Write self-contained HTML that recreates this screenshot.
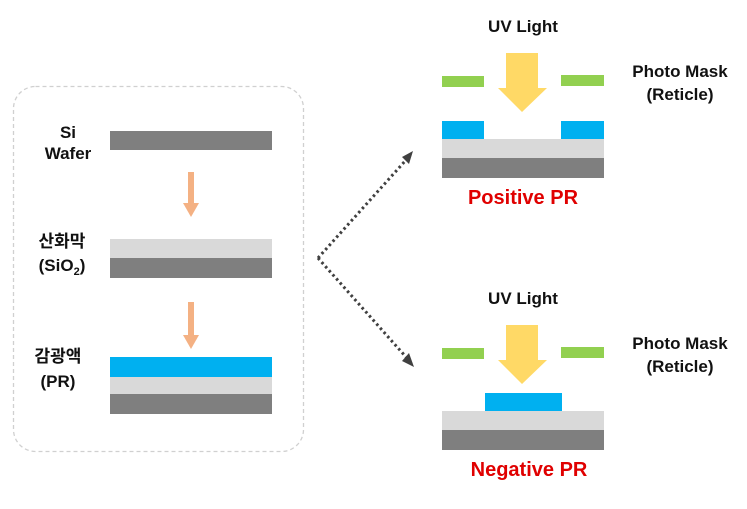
<!DOCTYPE html>
<html><head><meta charset="utf-8"><style>
html,body{margin:0;padding:0;background:#fff;width:747px;height:509px;overflow:hidden}
svg text{font-family:"Liberation Sans","Noto Sans CJK KR",sans-serif;font-weight:bold}
</style></head><body>
<svg width="747" height="509" viewBox="0 0 747 509" xmlns="http://www.w3.org/2000/svg">
<rect x="13.5" y="86.5" width="290" height="365" rx="22" fill="none" stroke="#d0d0d0" stroke-width="1.3" stroke-dasharray="4,3"/>
<!-- Si wafer -->
<rect x="110" y="131" width="162" height="19" fill="#7f7f7f"/>
<text x="68" y="138" font-size="17" text-anchor="middle" fill="#111">Si</text>
<text x="68" y="159" font-size="17" text-anchor="middle" fill="#111">Wafer</text>
<!-- arrow 1 -->
<rect x="188" y="172" width="6" height="31" fill="#f4b183"/>
<polygon points="183,203 199,203 191,217" fill="#f4b183"/>
<!-- SiO2 -->
<rect x="110" y="239" width="162" height="19" fill="#d9d9d9"/>
<rect x="110" y="258" width="162" height="20" fill="#7f7f7f"/>
<text x="62" y="247" font-size="17" text-anchor="middle" fill="#111">산화막</text>
<text x="62" y="271" font-size="17" text-anchor="middle" fill="#111">(SiO<tspan font-size="11" dy="4">2</tspan><tspan dy="-4">)</tspan></text>
<!-- arrow 2 -->
<rect x="188" y="302" width="6" height="33" fill="#f4b183"/>
<polygon points="183,335 199,335 191,349" fill="#f4b183"/>
<!-- PR -->
<rect x="110" y="357" width="162" height="20" fill="#00b0f0"/>
<rect x="110" y="377" width="162" height="17" fill="#d9d9d9"/>
<rect x="110" y="394" width="162" height="20" fill="#7f7f7f"/>
<text x="58" y="362" font-size="17" text-anchor="middle" fill="#111">감광액</text>
<text x="58" y="387" font-size="17" text-anchor="middle" fill="#111">(PR)</text>
<!-- dotted connectors -->
<path d="M318,258 L406,160" stroke="#404040" stroke-width="3" stroke-dasharray="2.5,3" fill="none"/>
<path d="M318,258 L406,357" stroke="#404040" stroke-width="3" stroke-dasharray="2.5,3" fill="none"/>
<polygon points="413,151 402,157 409,164" fill="#404040"/>
<polygon points="414,367 402,361 409,353" fill="#404040"/>
<!-- Positive -->
<text x="523" y="32" font-size="17" text-anchor="middle" fill="#111">UV Light</text>
<rect x="442" y="76" width="42" height="11" fill="#92d050"/>
<rect x="561" y="75" width="43" height="11" fill="#92d050"/>
<rect x="506" y="53" width="32" height="36" fill="#ffd966"/>
<polygon points="498,88 547,88 522,112" fill="#ffd966"/>
<rect x="442" y="121" width="42" height="18" fill="#00b0f0"/>
<rect x="561" y="121" width="43" height="18" fill="#00b0f0"/>
<rect x="442" y="139" width="162" height="19" fill="#d9d9d9"/>
<rect x="442" y="158" width="162" height="20" fill="#7f7f7f"/>
<text x="523" y="204" font-size="20" text-anchor="middle" fill="#e00000">Positive PR</text>
<text x="680" y="77" font-size="17" text-anchor="middle" fill="#111">Photo Mask</text>
<text x="680" y="100" font-size="17" text-anchor="middle" fill="#111">(Reticle)</text>
<!-- Negative -->
<text x="523" y="304" font-size="17" text-anchor="middle" fill="#111">UV Light</text>
<rect x="442" y="348" width="42" height="11" fill="#92d050"/>
<rect x="561" y="347" width="43" height="11" fill="#92d050"/>
<rect x="506" y="325" width="32" height="36" fill="#ffd966"/>
<polygon points="498,360 547,360 522,384" fill="#ffd966"/>
<rect x="485" y="393" width="77" height="18" fill="#00b0f0"/>
<rect x="442" y="411" width="162" height="19" fill="#d9d9d9"/>
<rect x="442" y="430" width="162" height="20" fill="#7f7f7f"/>
<text x="529" y="476" font-size="20" text-anchor="middle" fill="#e00000">Negative PR</text>
<text x="680" y="349" font-size="17" text-anchor="middle" fill="#111">Photo Mask</text>
<text x="680" y="372" font-size="17" text-anchor="middle" fill="#111">(Reticle)</text>
</svg>
</body></html>
